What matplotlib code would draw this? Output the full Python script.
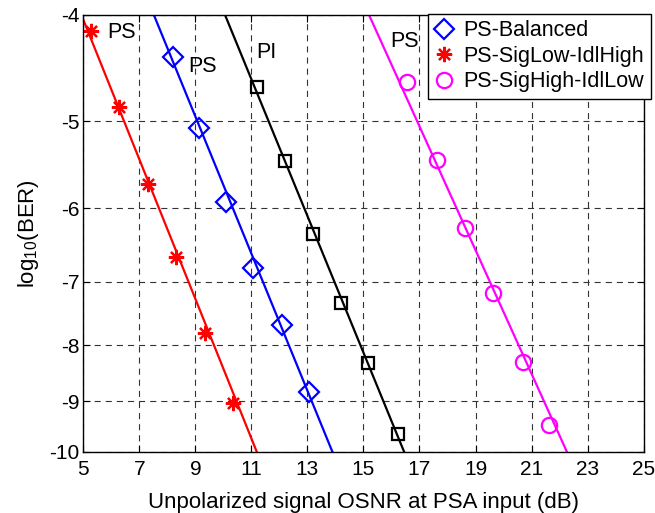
#!/usr/bin/env python3
"""BER vs unpolarized signal OSNR at PSA input."""

import numpy as np
import matplotlib
matplotlib.use("Agg")
import matplotlib.pyplot as plt

plt.rcParams["font.family"] = ["Liberation Sans", "DejaVu Sans"]
plt.rcParams["axes.unicode_minus"] = False
plt.rcParams["mathtext.fontset"] = "custom"
plt.rcParams["mathtext.rm"] = "Liberation Sans"
plt.rcParams["mathtext.it"] = "Liberation Sans"

# measured points (x = OSNR dB, y = log10 BER)
BAL_X = [8.19, 9.14, 10.08, 11.07, 12.11, 13.06]
BAL_Y = [-4.37, -5.07, -5.92, -6.80, -7.66, -8.82]

SLIH_X = [5.28, 6.29, 7.30, 8.31, 9.33, 10.36]
SLIH_Y = [-4.14, -4.85, -5.70, -6.65, -7.79, -9.02]

SHIL_X = [16.57, 17.61, 18.61, 19.64, 20.68, 21.63]
SHIL_Y = [-4.60, -5.42, -6.26, -7.17, -8.28, -9.46]

PI_X = [11.21, 12.20, 13.19, 14.19, 15.18, 16.23]
PI_Y = [-4.65, -5.43, -6.33, -7.32, -8.30, -9.64]

# fitted lines, endpoints
BAL_FIT_X = [7.52, 13.89]
BAL_FIT_Y = [-4.0, -10.0]
SLIH_FIT_X = [5.0, 11.19]
SLIH_FIT_Y = [-4.04, -10.0]
SHIL_FIT_X = [15.20, 22.26]
SHIL_FIT_Y = [-4.0, -10.0]
PI_FIT_X = [10.06, 16.45]
PI_FIT_Y = [-4.0, -10.0]

CURVE_LABELS = ["PS", "PS", "PI", "PS"]
CURVE_LABEL_X = [6.35, 9.27, 11.52, 16.45]
CURVE_LABEL_Y = [-4.15, -4.46, -4.33, -4.23]

X_TICKS = list(range(5, 26, 2))
Y_TICKS = [-4, -5, -6, -7, -8, -9, -10]


def fwd(y):
    y = np.asarray(y, dtype=float)
    with np.errstate(invalid="ignore", divide="ignore"):
        return -np.log10(-y)


def inv(f):
    f = np.asarray(f, dtype=float)
    return -(10.0 ** (-f))


def main():
    fig = plt.figure(figsize=(6.55, 5.13), dpi=100)
    ax = fig.add_axes([83.3 / 655, 1 - 451.7 / 513, (643.6 - 83.3) / 655, (451.7 - 15) / 513])
    ax.set_yscale("function", functions=(fwd, inv))

    lw = 1.6
    mew = 1.6
    # fits (no legend)
    ax.plot(BAL_FIT_X, BAL_FIT_Y, color="blue", lw=lw)
    ax.plot(SLIH_FIT_X, SLIH_FIT_Y, color="red", lw=lw)
    ax.plot(SHIL_FIT_X, SHIL_FIT_Y, color="magenta", lw=lw)
    ax.plot(PI_FIT_X, PI_FIT_Y, color="black", lw=lw)

    ax.plot(BAL_X, BAL_Y, linestyle="none", marker="D", markersize=10,
            markerfacecolor="none", markeredgecolor="blue", markeredgewidth=mew,
            label="PS-Balanced")
    ax.plot(SLIH_X, SLIH_Y, linestyle="none", marker=(8, 2, 0), markersize=11,
            markerfacecolor="red", markeredgecolor="red", markeredgewidth=mew,
            label="PS-SigLow-IdlHigh")
    ax.plot(SHIL_X, SHIL_Y, linestyle="none", marker="o", markersize=11,
            markerfacecolor="none", markeredgecolor="magenta", markeredgewidth=mew,
            label="PS-SigHigh-IdlLow")
    ax.plot(PI_X, PI_Y, linestyle="none", marker="s", markersize=9,
            markerfacecolor="none", markeredgecolor="black", markeredgewidth=mew)

    for text, x, y in zip(CURVE_LABELS, CURVE_LABEL_X, CURVE_LABEL_Y):
        ax.text(x, y, text, fontsize=15.5, ha="center", va="center")

    ax.set_xlim(5, 25)
    ax.set_ylim(-10, -4)
    ax.set_xticks(X_TICKS)
    ax.set_xticklabels([str(v) for v in X_TICKS])
    ax.set_yticks(Y_TICKS)
    ax.set_yticklabels([str(v) for v in Y_TICKS])
    ax.yaxis.set_minor_locator(matplotlib.ticker.NullLocator())
    ax.tick_params(direction="in", length=5, width=0.8, labelsize=15,
                   top=True, right=True)
    ax.tick_params(axis="x", pad=6)
    ax.tick_params(axis="y", pad=3)
    ax.grid(True, color="#333333", linestyle=(0, (5.5, 4.5)), linewidth=0.8)
    for spine in ax.spines.values():
        spine.set_linewidth(1.0)

    ax.set_xlabel("Unpolarized signal OSNR at PSA input (dB)", fontsize=16, labelpad=9)
    ax.set_ylabel("log$_{10}$(BER)", fontsize=16, labelpad=6)

    leg = ax.legend(loc="upper left", bbox_to_anchor=(428 / 655, 1 - 14 / 513),
                    bbox_transform=fig.transFigure, fontsize=15.5, frameon=True,
                    fancybox=False, edgecolor="black", framealpha=1,
                    borderpad=0.3, labelspacing=0.2, handlelength=0.9,
                    handletextpad=0.45, borderaxespad=0)
    leg.get_frame().set_linewidth(1.0)

    fig.savefig("out.png", dpi=100)


if __name__ == "__main__":
    main()
